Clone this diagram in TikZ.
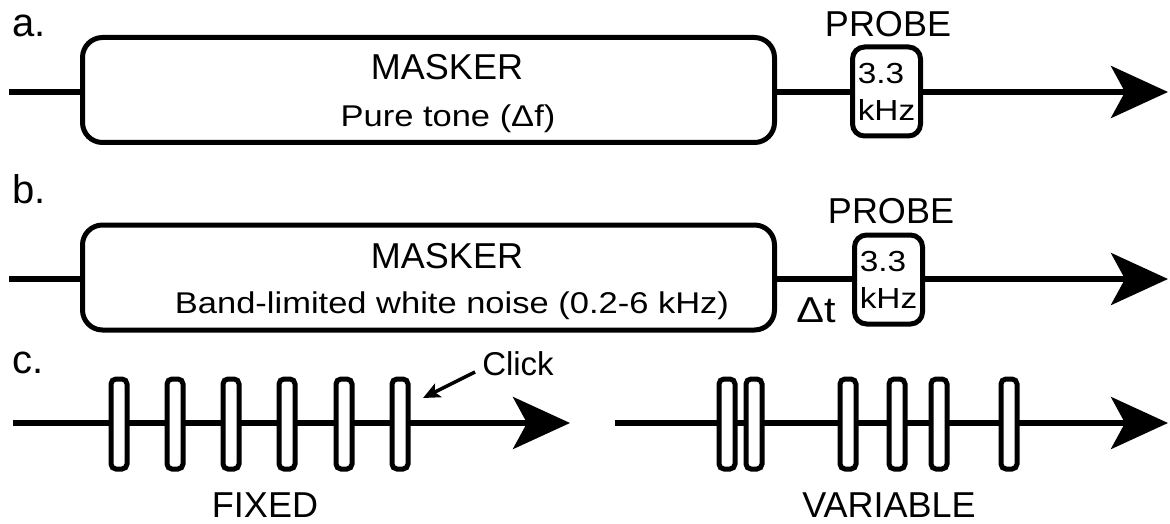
\documentclass[tikz,border=0pt]{standalone}
\usepackage{fontspec}
\setmainfont{Liberation Sans}
\newfontfamily\widefont[FakeStretch=1.15]{Liberation Sans}
\usetikzlibrary{arrows.meta}
\newcommand{\fsz}[2]{\fontsize{#1}{#2}\selectfont}
\begin{document}
\begin{tikzpicture}[x=1pt,y=-1pt,
  ln/.style={line width=5.5pt},
  bigarrow/.style={line width=5.5pt,-{Stealth[length=57pt,width=52pt,inset=14pt]}},
  clickarrow/.style={line width=3.5pt,-{Stealth[length=17pt,width=15pt,inset=4pt]}},
  maskbox/.style={draw,line width=5pt,rounded corners=20pt,minimum width=692pt,minimum height=105pt,inner sep=0pt,fill=white},
  probebox/.style={draw,line width=5pt,rounded corners=12pt,minimum width=68pt,minimum height=89pt,inner sep=0pt,fill=white,align=left,font=\widefont\fsz{29}{37}},
  clickbox/.style={draw,line width=5pt,rounded corners=5pt,minimum width=16pt,minimum height=90pt,inner sep=0pt,fill=white},
  panel/.style={anchor=base west,inner sep=0pt,font=\fsz{40}{40}},
  title/.style={anchor=base,inner sep=0pt,font=\fsz{36}{36}},
  sub/.style={anchor=base,inner sep=0pt,font=\widefont\fsz{30}{30}},
  note/.style={anchor=base,inner sep=0pt,font=\fsz{33}{33}},
  delta/.style={anchor=base,inner sep=0pt,font=\widefont\fsz{36}{36}}
]
\useasboundingbox (0,0) rectangle (1170,524);

% ---------- row a ----------
\node[panel] (la) at (12,37) {a.};
\coordinate (sa) at (9,92);
\coordinate (ea) at (1168,92);
\node[maskbox] (ma) at (428.5,90) {};
\node[title] (mat) at (447,80) {MASKER};
\node[sub] (mas) at (448,127) {Pure tone (Δf)};
\node[probebox] (pa) at (886.5,91.5) {3.3\\kHz};
\node[title] (pal) at (888,37) {PROBE};
\draw[ln] (sa) -- (sa -| ma.west);
\draw[ln] (ma.east |- sa) -- (pa.west |- sa);
\draw[bigarrow] (pa.east |- sa) -- (ea);

% ---------- row b ----------
\node[panel] (lb) at (12,203) {b.};
\coordinate (sb) at (9,279);
\coordinate (eb) at (1168,279);
\node[maskbox] (mb) at (428.5,277.5) {};
\node[title] (mbt) at (447,268) {MASKER};
\node[sub] (mbs) at (452,313) {Band-limited white noise (0.2-6 kHz)};
\node[probebox] (pb) at (888.5,279.5) {3.3\\kHz};
\node[title] (pbl) at (891,223) {PROBE};
\node[delta] (dt) at (816,322) {Δt};
\draw[ln] (sb) -- (sb -| mb.west);
\draw[ln] (mb.east |- sb) -- (pb.west |- sb);
\draw[bigarrow] (pb.east |- sb) -- (eb);

% ---------- row c ----------
\node[panel] (lc) at (12,373) {c.};
\coordinate (sc1) at (13,423);
\coordinate (ec1) at (570,423);
\coordinate (sc2) at (615,423);
\coordinate (ec2) at (1168,423);
\draw[bigarrow] (sc1) -- (ec1);
\draw[bigarrow] (sc2) -- (ec2);
\foreach \x [count=\i] in {119,175,231,287,344,400}
  \node[clickbox] (f\i) at (\x,424) {};
\foreach \x [count=\i] in {727,754,848,897,939,1009}
  \node[clickbox] (v\i) at (\x,424) {};
\node[note] (clk) at (518,375) {Click};
\coordinate (cs) at (475,372);
\coordinate (ct) at (423,398);
\draw[clickarrow] (cs) -- (ct);
\node[title] (fx) at (265,517) {FIXED};
\node[title] (vr) at (889,517) {VARIABLE};
\end{tikzpicture}
\end{document}
